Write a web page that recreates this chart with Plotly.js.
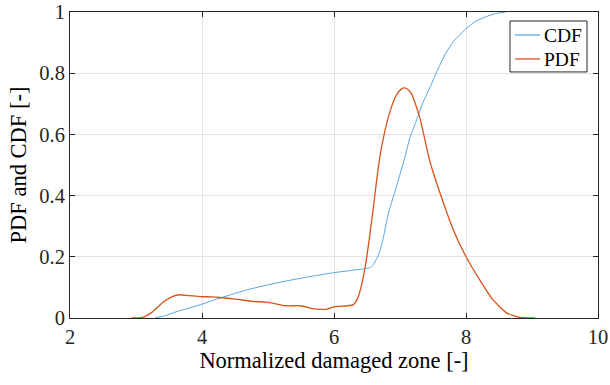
<!DOCTYPE html>
<html>
<head>
<meta charset="utf-8">
<script src="https://cdn.plot.ly/plotly-3.0.1.min.js"></script>
<style>html,body{margin:0;padding:0;background:#fff;}#chart{width:610px;height:385px;}</style>
</head>
<body>
<div id="chart"></div>
<script>
// PDF series (orange)
const pdfX = [2.93, 3.1, 3.25, 3.4, 3.55, 3.67, 3.8, 3.97, 4.15, 4.27, 4.5, 4.77, 4.98, 5.27, 5.48, 5.74, 5.89, 6.0, 6.09, 6.2, 6.29, 6.36, 6.42, 6.49, 6.59, 6.67, 6.75, 6.85, 6.95, 7.02, 7.07, 7.12, 7.18, 7.3, 7.45, 7.61, 7.81, 8.0, 8.21, 8.41, 8.62, 8.82, 9.05];
const pdfY = [0, 0.002, 0.02, 0.05, 0.07, 0.076, 0.073, 0.07, 0.069, 0.067, 0.062, 0.054, 0.052, 0.04, 0.04, 0.029, 0.029, 0.036, 0.038, 0.04, 0.043, 0.065, 0.11, 0.19, 0.35, 0.49, 0.59, 0.676, 0.73, 0.748, 0.752, 0.747, 0.73, 0.655, 0.514, 0.406, 0.287, 0.2, 0.124, 0.059, 0.016, 0.002, 0];
// CDF series (blue)
const cdfX = [3.29, 3.45, 3.62, 3.8, 3.97, 4.2, 4.45, 4.68, 4.95, 5.23, 5.6, 5.99, 6.25, 6.49, 6.55, 6.59, 6.65, 6.7, 6.75, 6.8, 6.85, 6.92, 7.0, 7.08, 7.15, 7.23, 7.3, 7.35, 7.45, 7.56, 7.68, 7.81, 8.01, 8.15, 8.31, 8.45, 8.6];
const cdfY = [0, 0.008, 0.021, 0.032, 0.043, 0.06, 0.077, 0.092, 0.106, 0.119, 0.134, 0.148, 0.155, 0.162, 0.165, 0.173, 0.195, 0.222, 0.265, 0.319, 0.362, 0.41, 0.47, 0.53, 0.59, 0.635, 0.676, 0.705, 0.752, 0.806, 0.86, 0.904, 0.947, 0.97, 0.985, 0.995, 1.0];
// Axis ticks
const xTicks = [2, 4, 6, 8, 10];
const xTickLabels = ["2", "4", "6", "8", "10"];
const yTicks = [0, 0.2, 0.4, 0.6, 0.8, 1];
const yTickLabels = ["0", "0.2", "0.4", "0.6", "0.8", "1"];
// Series names / colours
const seriesNames = ["CDF", "PDF"];
const seriesColors = ["#2f8fd4", "#D95319"];
const seriesWidths = [0.8, 1.3];

const font = "Liberation Serif";
const axisCol = "#262626";

const traces = [
  {x: cdfX, y: cdfY, name: seriesNames[0], mode: "lines", type: "scatter",
   line: {color: seriesColors[0], width: seriesWidths[0], shape: "spline", smoothing: 0.5}},
  {x: pdfX, y: pdfY, name: seriesNames[1], mode: "lines", type: "scatter",
   line: {color: seriesColors[1], width: seriesWidths[1], shape: "spline", smoothing: 0.5}}
];

const axBase = {
  showline: true, linecolor: axisCol, linewidth: 1, mirror: "ticks",
  ticks: "inside", ticklen: 5, tickcolor: axisCol, tickwidth: 1,
  showgrid: true, gridcolor: "#e4e4e4", gridwidth: 1, zeroline: false,
  ticklabeloverflow: "allow",
  tickfont: {family: font, size: 20.5, color: axisCol}
};

// Hand-built compact legend (paper coordinates)
const T = 12, B = 318.3;
const W = 528, H = B - T;
const px = v => (v - 70) / W;
const py = v => (B - v) / H;
const legendShapes = [
  {type: "rect", xref: "paper", yref: "paper", x0: px(510), x1: px(587), y0: py(72), y1: py(21),
   line: {color: axisCol, width: 1}, fillcolor: "#fff", layer: "above"}
];
const legendAnn = [];
const rowsY = [35, 59];
seriesNames.forEach((n, i) => {
  legendShapes.push({type: "line", xref: "paper", yref: "paper", x0: px(515), x1: px(540),
    y0: py(rowsY[i]), y1: py(rowsY[i]), line: {color: seriesColors[i], width: i ? 1.3 : 1}, layer: "above"});
  legendAnn.push({xref: "paper", yref: "paper", x: px(542), y: py(rowsY[i] + 1), xanchor: "left", yanchor: "middle",
    text: n, showarrow: false, font: {family: font, size: 19.5, color: "#000"}});
});

const layout = {
  width: 610, height: 385,
  margin: {l: 70, r: 12, t: T, b: 385 - B},
  paper_bgcolor: "#fff", plot_bgcolor: "#fff",
  font: {family: font, color: axisCol},
  showlegend: false,
  shapes: legendShapes,
  annotations: legendAnn,
  xaxis: Object.assign({}, axBase, {
    range: [2, 10], tickmode: "array", tickvals: xTicks, ticktext: xTickLabels,
    title: {text: "Normalized damaged zone [-]", font: {family: font, size: 22.5, color: "#000"}, standoff: 4}
  }),
  yaxis: Object.assign({}, axBase, {
    range: [0, 1], tickmode: "array", tickvals: yTicks, ticktext: yTickLabels,
    title: {text: "PDF and CDF [-]", font: {family: font, size: 22.5, color: "#000"}, standoff: 6}
  })
};

Plotly.newPlot("chart", traces, layout, {displayModeBar: false, staticPlot: true});
</script>
</body>
</html>
